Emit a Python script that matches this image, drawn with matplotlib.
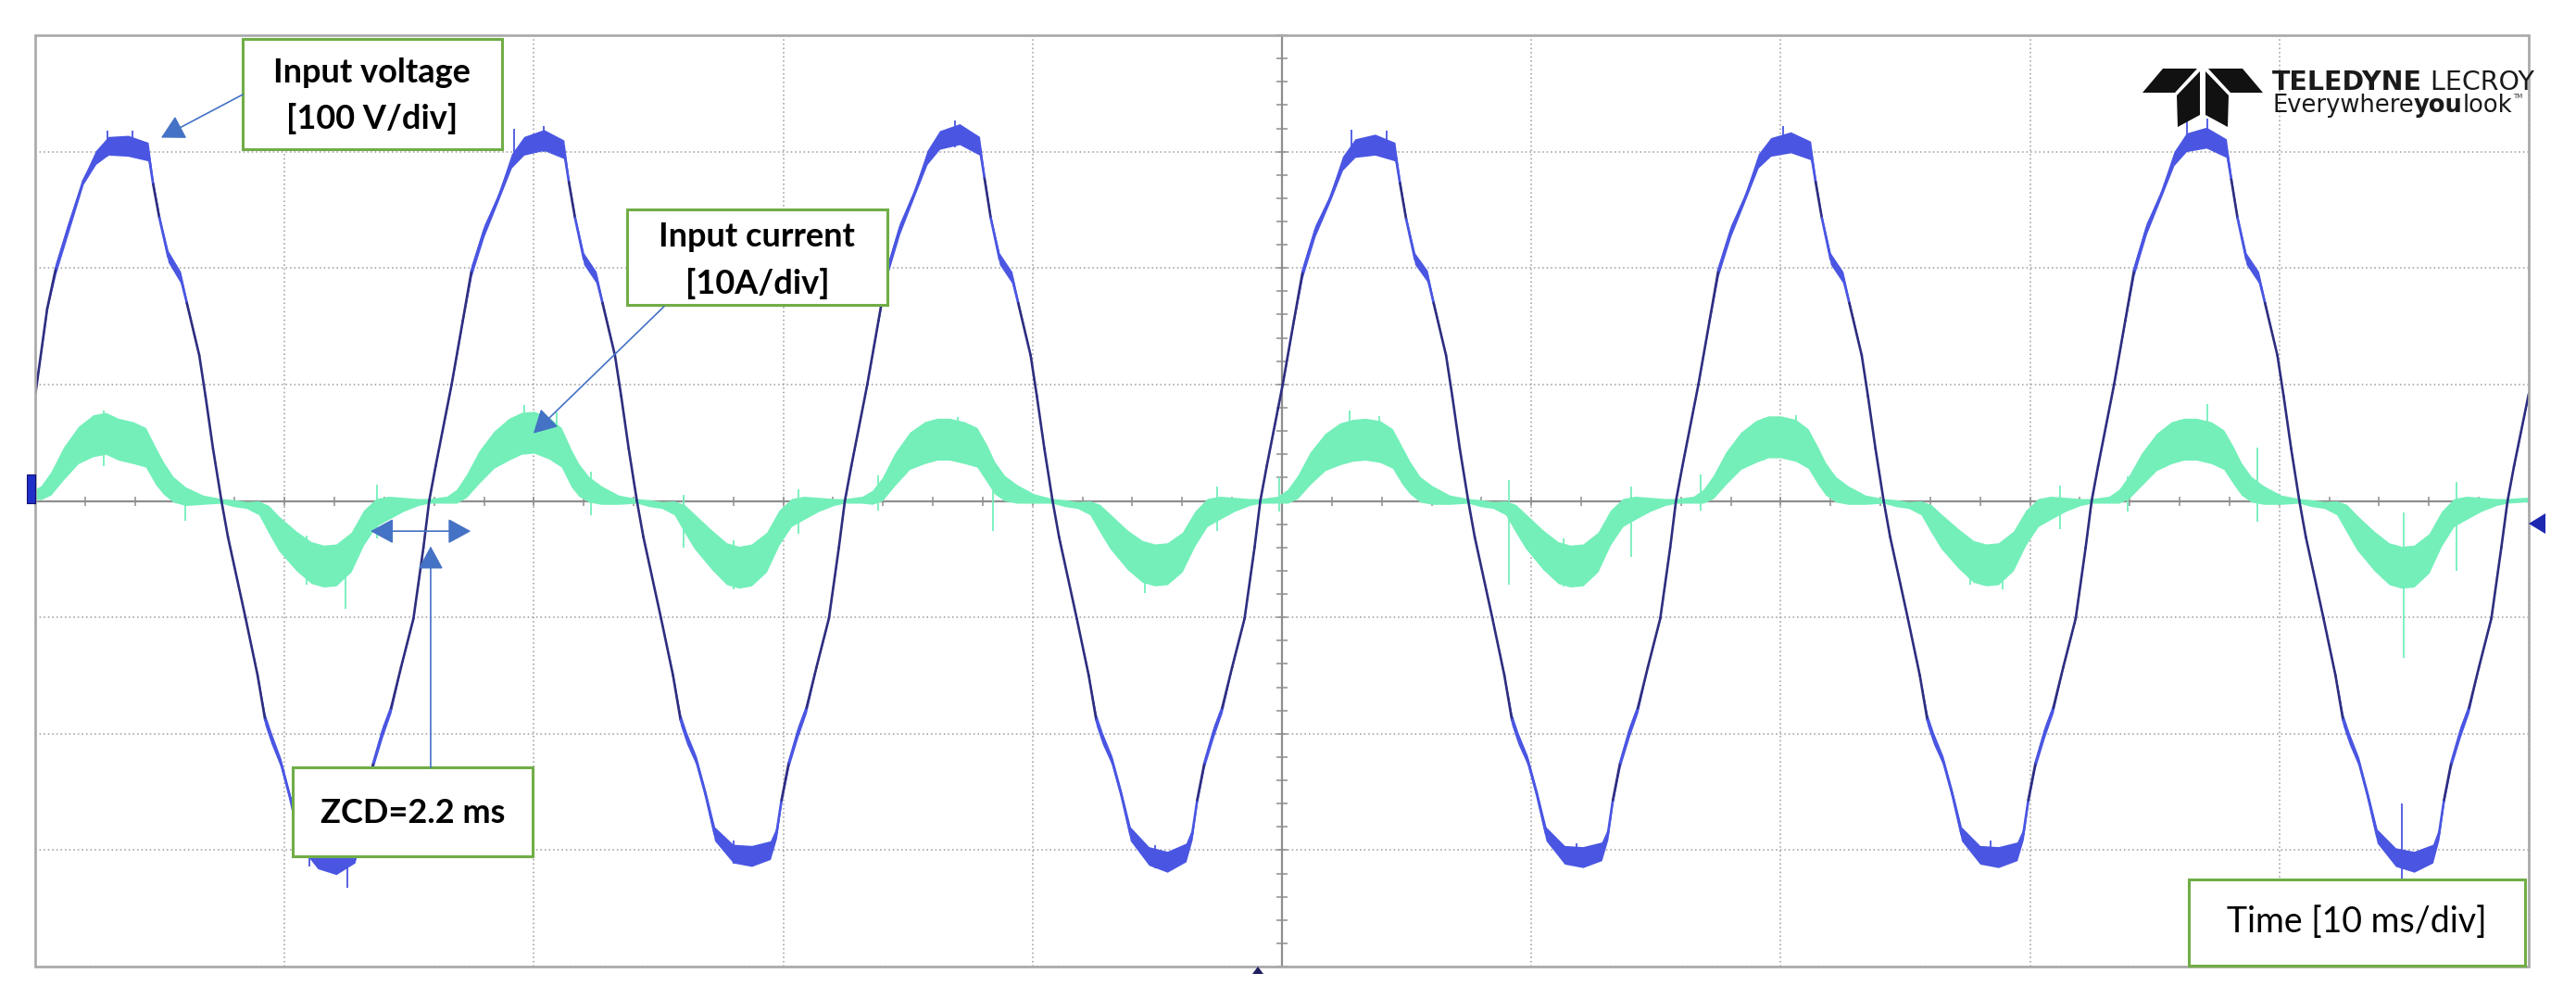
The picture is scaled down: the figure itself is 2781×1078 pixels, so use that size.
import numpy as np
import matplotlib
matplotlib.use("Agg")
import matplotlib.pyplot as plt
from matplotlib.patches import Rectangle, Polygon
from matplotlib.collections import LineCollection
from matplotlib.ticker import MultipleLocator

W, H, DPI = 2781, 1078, 100

# ---------------- data ----------------
# time in ms (10 ms/div), voltage in V (100 V/div), current in A (10 A/div)
V_PER_DIV = 100.0
I_PER_DIV = 10.0

# input voltage, one list per half cycle
v_t_p0 = [-0.87, -0.61, 0.03, 0.48, 0.83, 1.33, 1.93, 2.43, 2.93, 3.73, 4.53, 4.73, 4.98, 5.33, 5.83, 6.08, 6.58, 6.83, 7.13]
v_p0 = [0, 30, 95, 165, 200, 235, 275, 295, 305, 305, 300, 272, 243, 210, 192, 170, 125, 90, 45]
v_t_n0 = [7.47, 7.73, 8.44, 8.92, 9.22, 9.47, 9.85, 10.22, 10.59, 11.33, 12.07, 12.82, 13.07, 13.27, 13.56, 13.93, 14.27, 14.67, 15.17, 15.57]
v_n0 = [0, -31, -101, -150, -188, -204, -225, -255, -290, -308, -312, -303, -286, -257, -225, -198, -178, -143, -101, -40]
v_t_p1 = [15.80, 16.06, 16.70, 17.15, 17.50, 18.00, 18.60, 19.10, 19.60, 20.40, 21.20, 21.40, 21.65, 22.00, 22.50, 22.75, 23.25, 23.50, 23.80]
v_p1 = [0, 30, 100, 155, 198, 232, 262, 292, 305, 310, 302, 274, 243, 208, 192, 170, 125, 90, 45]
v_t_n1 = [24.13, 24.39, 25.10, 25.58, 25.88, 26.13, 26.51, 26.88, 27.25, 27.99, 28.73, 29.48, 29.73, 29.93, 30.22, 30.59, 30.93, 31.33, 31.83, 32.23]
v_n1 = [0, -31, -101, -150, -188, -204, -223, -252, -286, -303, -305, -300, -285, -257, -225, -198, -178, -143, -101, -40]
v_t_p2 = [32.47, 32.73, 33.37, 33.82, 34.17, 34.67, 35.27, 35.77, 36.27, 37.07, 37.87, 38.07, 38.32, 38.67, 39.17, 39.42, 39.92, 40.17, 40.47]
v_p2 = [0, 30, 100, 155, 198, 234, 265, 295, 310, 315, 305, 277, 243, 208, 192, 170, 125, 90, 45]
v_t_n2 = [40.80, 41.06, 41.77, 42.25, 42.55, 42.80, 43.18, 43.55, 43.92, 44.66, 45.40, 46.15, 46.40, 46.60, 46.89, 47.26, 47.60, 48.00, 48.50, 48.90]
v_n2 = [0, -31, -101, -150, -188, -204, -223, -252, -286, -305, -310, -302, -286, -257, -225, -198, -178, -143, -101, -40]
v_t_p3 = [49.13, 49.39, 50.03, 50.48, 50.83, 51.33, 51.93, 52.43, 52.93, 53.73, 54.53, 54.73, 54.98, 55.33, 55.83, 56.08, 56.58, 56.83, 57.13]
v_p3 = [0, 30, 100, 155, 197, 232, 260, 290, 303, 306, 300, 273, 242, 208, 193, 170, 125, 90, 45]
v_t_n3 = [57.47, 57.73, 58.44, 58.92, 59.22, 59.47, 59.85, 60.22, 60.59, 61.33, 62.07, 62.82, 63.07, 63.27, 63.56, 63.93, 64.27, 64.67, 65.17, 65.57]
v_n3 = [0, -31, -101, -150, -188, -204, -223, -252, -286, -304, -306, -301, -286, -257, -225, -198, -178, -143, -101, -40]
v_t_p4 = [65.80, 66.06, 66.70, 67.15, 67.50, 68.00, 68.60, 69.10, 69.60, 70.40, 71.20, 71.40, 71.65, 72.00, 72.50, 72.75, 73.25, 73.50, 73.80]
v_p4 = [0, 30, 100, 155, 198, 232, 262, 292, 304, 308, 301, 274, 243, 208, 192, 170, 125, 90, 45]
v_t_n4 = [74.13, 74.39, 75.10, 75.58, 75.88, 76.13, 76.51, 76.88, 77.25, 77.99, 78.73, 79.48, 79.73, 79.93, 80.22, 80.59, 80.93, 81.33, 81.83, 82.23]
v_n4 = [0, -31, -101, -150, -188, -204, -223, -252, -286, -304, -306, -301, -286, -257, -225, -198, -178, -143, -101, -40]
v_t_p5 = [82.47, 82.73, 83.37, 83.82, 84.17, 84.67, 85.27, 85.77, 86.27, 87.07, 87.87, 88.07, 88.32, 88.67, 89.17, 89.42, 89.92, 90.17, 90.47]
v_p5 = [0, 30, 100, 155, 198, 234, 264, 294, 308, 312, 303, 276, 243, 208, 192, 170, 125, 90, 45]
v_t_n5 = [90.80, 91.06, 91.77, 92.25, 92.55, 92.80, 93.18, 93.55, 93.92, 94.66, 95.40, 96.15, 96.40, 96.60, 96.89, 97.26, 97.60, 98.00, 98.50, 98.90]
v_n5 = [0, -31, -101, -150, -188, -204, -224, -254, -288, -306, -310, -303, -286, -257, -225, -198, -178, -143, -101, -40]
v_t_p6 = [99.15, 99.41, 100.0]
v_p6 = [0, 30, 92]
# visible noise half-thickness of the voltage trace (V)
v_band_pos = [1, 1, 1, 2, 5, 5, 3, 6, 8, 9, 8, 4, 3, 5, 5, 3, 1, 1, 1]
v_band_neg = [1, 1, 1, 2, 5, 5, 4, 4, 6, 8, 9, 8, 5, 3, 4, 5, 4, 1, 1, 1]
v_band_end = [1, 1, 1]
# isolated voltage spikes: time, low, high (V)
v_spk_t = [12.5, 94.9, 52.8, 87.1, 3.9, 20.4, 2.9, 19.2, 36.9, 54.2, 70.1, 86.3, 28.0, 44.9, 61.8, 78.4, 11.0]
v_spk_lo = [-332, -326, 300, 305, 298, 300, 296, 296, 304, 297, 298, 302, -312, -316, -312, -312, -314]
v_spk_hi = [-300, -260, 319, 328, 318, 322, 318, 320, 327, 318, 322, 326, -292, -296, -294, -292, -294]

# input current, one list per half cycle
i_t_p0 = [-0.87, -0.17, 0.23, 0.63, 1.13, 1.73, 2.33, 2.83, 3.33, 3.93, 4.43, 4.83, 5.13, 5.53, 6.03, 6.73]
i_p0 = [0.4, 0.5, 0.7, 1.5, 3.2, 4.8, 5.6, 5.8, 5.3, 5.0, 4.6, 3.0, 2.0, 1.0, 0.4, 0.1]
i_t_n0 = [7.47, 7.97, 8.47, 8.97, 9.37, 9.77, 10.47, 11.07, 11.57, 12.07, 12.67, 13.17, 13.67, 14.17, 14.77, 15.37]
i_n0 = [0, -0.2, -0.35, -0.6, -1.6, -2.8, -4.3, -5.3, -5.6, -5.5, -4.4, -2.3, -1.0, -0.6, -0.3, -0.1]
i_t_p1 = [15.80, 16.50, 16.90, 17.30, 17.80, 18.40, 19.00, 19.50, 20.00, 20.60, 21.10, 21.50, 21.80, 22.20, 22.70, 23.40]
i_p1 = [0, 0.1, 0.4, 1.3, 2.9, 4.4, 5.3, 5.8, 5.9, 5.4, 4.6, 2.8, 1.8, 1.0, 0.5, 0.1]
i_t_n1 = [24.13, 24.63, 25.13, 25.63, 26.03, 26.43, 27.13, 27.73, 28.23, 28.73, 29.33, 29.83, 30.33, 30.83, 31.43, 32.03]
i_n1 = [0, -0.2, -0.35, -0.6, -1.5, -2.6, -4.2, -5.4, -5.7, -5.5, -4.4, -2.3, -1.0, -0.6, -0.3, -0.1]
i_t_p2 = [32.47, 33.17, 33.57, 33.97, 34.47, 35.07, 35.67, 36.17, 36.67, 37.27, 37.77, 38.17, 38.47, 38.87, 39.37, 40.07]
i_p2 = [0, 0.1, 0.3, 1.0, 2.7, 4.3, 5.0, 5.3, 5.3, 5.0, 4.6, 3.2, 2.0, 1.1, 0.6, 0.2]
i_t_n2 = [40.80, 41.30, 41.80, 42.30, 42.70, 43.10, 43.80, 44.40, 44.90, 45.40, 46.00, 46.50, 47.00, 47.50, 48.10, 48.70]
i_n2 = [0, -0.2, -0.35, -0.6, -1.5, -2.6, -4.2, -5.2, -5.5, -5.4, -4.4, -2.4, -1.0, -0.6, -0.3, -0.1]
i_t_p3 = [49.13, 49.83, 50.23, 50.63, 51.13, 51.73, 52.33, 52.83, 53.33, 53.93, 54.43, 54.83, 55.13, 55.53, 56.03, 56.73]
i_p3 = [0, 0.1, 0.4, 1.2, 2.8, 4.2, 4.9, 5.2, 5.3, 5.1, 4.5, 3.0, 2.0, 1.0, 0.5, 0.1]
i_t_n3 = [57.47, 57.97, 58.47, 58.97, 59.37, 59.77, 60.47, 61.07, 61.57, 62.07, 62.67, 63.17, 63.67, 64.17, 64.77, 65.37]
i_n3 = [0, -0.2, -0.35, -0.6, -1.5, -2.6, -4.2, -5.3, -5.6, -5.5, -4.4, -2.3, -1.0, -0.6, -0.3, -0.1]
i_t_p4 = [65.80, 66.50, 66.90, 67.30, 67.80, 68.40, 69.00, 69.50, 70.00, 70.60, 71.10, 71.50, 71.80, 72.20, 72.70, 73.40]
i_p4 = [0, 0.1, 0.4, 1.2, 2.8, 4.3, 5.1, 5.5, 5.5, 5.2, 4.5, 3.0, 1.9, 1.0, 0.5, 0.1]
i_t_n4 = [74.13, 74.63, 75.13, 75.63, 76.03, 76.43, 77.13, 77.73, 78.23, 78.73, 79.33, 79.83, 80.33, 80.83, 81.43, 82.03]
i_n4 = [0, -0.2, -0.35, -0.6, -1.5, -2.6, -4.1, -5.2, -5.5, -5.4, -4.3, -2.3, -1.0, -0.6, -0.3, -0.1]
i_t_p5 = [82.47, 83.17, 83.57, 83.97, 84.47, 85.07, 85.67, 86.17, 86.67, 87.27, 87.77, 88.17, 88.47, 88.87, 89.37, 90.07]
i_p5 = [0, 0.1, 0.4, 1.2, 2.7, 4.2, 5.0, 5.3, 5.3, 5.0, 4.4, 3.0, 1.9, 1.0, 0.5, 0.1]
i_t_n5 = [90.80, 91.30, 91.80, 92.30, 92.70, 93.10, 93.80, 94.40, 94.90, 95.40, 96.00, 96.50, 97.00, 97.50, 98.10, 98.70]
i_n5 = [0, -0.2, -0.35, -0.6, -1.5, -2.7, -4.3, -5.4, -5.7, -5.6, -4.5, -2.4, -1.0, -0.6, -0.3, -0.1]
i_t_end = [99.13, 99.80, 100.0]
i_end = [0, 0.1, 0.1]
# visible noise half-thickness of the current trace (A)
i_band_pos = [0.2, 0.3, 0.6, 1.0, 1.4, 1.6, 1.8, 1.8, 1.8, 1.8, 1.7, 1.6, 1.4, 1.1, 0.8, 0.4]
i_band_neg = [0.2, 0.3, 0.3, 0.6, 1.2, 1.5, 1.7, 1.8, 1.8, 1.8, 1.7, 1.5, 1.2, 1.0, 0.6, 0.3]
i_band_end = [0.2, 0.2, 0.2]
# isolated current spikes: time, low, high (A)
i_spk_t = [2.75, 12.45, 37.0, 38.4, 52.7, 59.1, 64.0, 87.1, 89.1, 95.0, 97.1, 22.3, 26.0, 13.7,
           6.0, 44.5, 70.6, 78.9, 19.6, 20.9, 36.2, 53.9, 69.3, 86.0, 10.9, 28.0, 61.3, 77.6,
           33.8, 49.9, 66.8, 83.9, 47.4, 30.6, 81.2]
i_spk_lo = [3.0, -9.3, 4.0, -2.6, 4.0, -7.2, -4.8, 4.0, -1.8, -13.5, -6.0, -1.2, -4.0, -3.2,
            -1.7, -7.9, 3.5, -7.6, 4.0, 3.5, 3.5, 3.5, 3.5, 3.5, -7.2, -7.6, -7.4, -7.2,
            -0.8, -0.9, -0.8, -0.9, -2.6, -2.8, -2.4]
i_spk_hi = [7.8, -4.0, 7.2, 2.0, 7.8, 1.8, 1.2, 8.3, 4.6, -1.0, 1.6, 2.5, 0.5, 1.4,
            1.0, -4.0, 7.4, -4.0, 8.2, 7.6, 7.0, 7.3, 7.1, 7.0, -3.0, -3.4, -3.2, -3.2,
            2.2, 2.0, 2.3, 2.1, 1.2, 1.0, 1.3]

# ---------------- assemble ----------------
v_t = np.concatenate([v_t_p0, v_t_n0, v_t_p1, v_t_n1, v_t_p2, v_t_n2, v_t_p3, v_t_n3,
                      v_t_p4, v_t_n4, v_t_p5, v_t_n5, v_t_p6])
v_v = np.concatenate([v_p0, v_n0, v_p1, v_n1, v_p2, v_n2, v_p3, v_n3, v_p4, v_n4, v_p5, v_n5, v_p6])
v_b = np.concatenate([v_band_pos, v_band_neg] * 6 + [v_band_end])
i_t = np.concatenate([i_t_p0, i_t_n0, i_t_p1, i_t_n1, i_t_p2, i_t_n2, i_t_p3, i_t_n3,
                      i_t_p4, i_t_n4, i_t_p5, i_t_n5, i_t_end])
i_v = np.concatenate([i_p0, i_n0, i_p1, i_n1, i_p2, i_n2, i_p3, i_n3, i_p4, i_n4, i_p5, i_n5, i_end])
i_b = np.concatenate([i_band_pos, i_band_neg] * 6 + [i_band_end])

VOLT_DARK = "#2e2e80"
VOLT_BRIGHT = "#4a56e2"
CURR = "#74efba"
GRAYL = "#9a9a9a"

fig = plt.figure(figsize=(W / DPI, H / DPI), dpi=DPI)
fig.patch.set_facecolor("white")

def fx(px):
    return px / W

def fy(py):
    return 1 - py / H

ax = fig.add_axes([fx(38), fy(1043), (2730 - 38) / W, (1043 - 38) / H])
ax.set_xlim(0, 100)
ax.set_ylim(-4, 4)
ax.set_facecolor("white")

# scope graticule: centre axes with fine ticks, dotted grid, grey frame
for s in ("top", "right"):
    ax.spines[s].set_visible(False)
ax.spines["left"].set_position(("data", 50))
ax.spines["bottom"].set_position(("data", 0))
for s in ("left", "bottom"):
    ax.spines[s].set_color("#8e8e8e")
    ax.spines[s].set_linewidth(1.6)
    ax.spines[s].set_zorder(2.5)
ax.xaxis.set_major_locator(MultipleLocator(10))
ax.xaxis.set_minor_locator(MultipleLocator(2))
ax.yaxis.set_major_locator(MultipleLocator(1))
ax.yaxis.set_minor_locator(MultipleLocator(0.2))
ax.tick_params(axis="x", which="both", direction="inout", length=6.5, width=1.1,
               color="#8e8e8e", labelbottom=False)
ax.tick_params(axis="y", which="both", direction="inout", length=8.5, width=1.1,
               color="#8e8e8e", labelleft=False)
ax.grid(True, which="major", linestyle=(0, (1, 2)), color=GRAYL, linewidth=1.1)
ax.set_axisbelow(True)
ax.add_patch(Rectangle((0, 0), 1, 1, transform=ax.transAxes, fill=False,
                       ec="#a8a8a8", lw=1.9, zorder=6, clip_on=False))

# current trace (10 A/div)
ci = i_v / I_PER_DIV
cb = i_b / I_PER_DIV
ax.fill_between(i_t, ci - cb, ci + cb, color=CURR, lw=0, zorder=3)
ax.plot(i_t, ci, color=CURR, lw=1.4, zorder=3)
ax.vlines(i_spk_t, np.array(i_spk_lo) / I_PER_DIV, np.array(i_spk_hi) / I_PER_DIV,
          color=CURR, lw=1.3, zorder=3)

# voltage trace (100 V/div): noisy parts bright blue, clean slopes dark navy
cv = v_v / V_PER_DIV
vb = v_b / V_PER_DIV
ax.fill_between(v_t, cv - vb, cv + vb, color=VOLT_BRIGHT, lw=0, zorder=4)
pts = np.column_stack([v_t, cv])
segs = np.stack([pts[:-1], pts[1:]], axis=1)
seg_noisy = (v_b[:-1] + v_b[1:]) / 2 > 3.5
seg_cols = [VOLT_BRIGHT if n else VOLT_DARK for n in seg_noisy]
ax.add_collection(LineCollection(segs, colors=seg_cols, linewidths=1.9, zorder=4,
                                 capstyle="round", joinstyle="round"))
ax.vlines(v_spk_t, np.array(v_spk_lo) / V_PER_DIV, np.array(v_spk_hi) / V_PER_DIV,
          color=VOLT_BRIGHT, lw=1.3, zorder=4)

# ---------------- annotations ----------------
GREEN = "#70ad47"
ABLUE = "#4472c4"
FONT = ["Lato", "DejaVu Sans"]

def box(x0, y0, x1, y1):
    ax.add_patch(Rectangle((x0, y0), x1 - x0, y1 - y0, fc="white", ec=GREEN, lw=2.2,
                           zorder=10, clip_on=False))

def arrow(xy_from, xy_to, style="-|>"):
    ax.annotate("", xy=xy_to, xytext=xy_from, zorder=11, annotation_clip=False,
                arrowprops=dict(arrowstyle=style + ",head_length=0.55,head_width=0.3",
                                color=ABLUE, lw=1.2, mutation_scale=28,
                                shrinkA=0, shrinkB=0))

# Input voltage
box(8.32, 3.02, 18.72, 3.97)
ax.text(13.5, 3.68, "Input voltage", ha="center", va="center", fontsize=26,
        fontweight="bold", family=FONT, zorder=12)
ax.text(13.5, 3.28, "[100 V/div]", ha="center", va="center", fontsize=26,
        fontweight="bold", family=FONT, zorder=12)
arrow((8.32, 3.49), (5.05, 3.12))

# Input current
box(23.74, 1.68, 34.18, 2.50)
ax.text(28.95, 2.27, "Input current", ha="center", va="center", fontsize=26,
        fontweight="bold", family=FONT, zorder=12)
ax.text(28.95, 1.87, "[10A/div]", ha="center", va="center", fontsize=26,
        fontweight="bold", family=FONT, zorder=12)
arrow((25.22, 1.67), (19.98, 0.58))

# ZCD
box(10.33, -3.05, 19.95, -2.29)
ax.text(15.14, -2.68, "ZCD=2.2 ms", ha="center", va="center", fontsize=26,
        fontweight="bold", family=FONT, zorder=12)
arrow((15.86, -2.29), (15.86, -0.39))
arrow((15.45, -0.26), (13.45, -0.26))
arrow((15.45, -0.26), (17.47, -0.26))

# Time
box(86.37, -3.99, 99.85, -3.25)
ax.text(93.1, -3.62, "Time [10 ms/div]", ha="center", va="center", fontsize=27,
        family=FONT, zorder=12)

# ---------------- scope markers ----------------
fig.patches.append(Rectangle((fx(29), fy(543)), fx(9), 31 / H, transform=fig.transFigure,
                             fc="#1f2fc8", ec="#101070", lw=0.8))
fig.patches.append(Polygon([(fx(2730), fy(565)), (fx(2748), fy(554)), (fx(2748), fy(576))],
                           closed=True, transform=fig.transFigure, fc="#1c28b0", ec="none"))
fig.patches.append(Polygon([(fx(1358), fy(1043)), (fx(1352), fy(1051)), (fx(1364), fy(1051))],
                           closed=True, transform=fig.transFigure, fc="#202060", ec="none"))

# ---------------- Teledyne LeCroy logo ----------------
logo_polys = [
    [(2313, 100), (2335, 74), (2372, 74), (2348, 100)],
    [(2443, 100), (2421, 74), (2384, 74), (2408, 100)],
    [(2350, 103), (2375, 77), (2375, 124), (2351, 137)],
    [(2406, 103), (2381, 77), (2381, 124), (2405, 137)],
]
for pts_l in logo_polys:
    fig.patches.append(Polygon([(fx(x), fy(y)) for x, y in pts_l], closed=True,
                               transform=fig.transFigure, fc="#111111", ec="none"))

renderer = fig.canvas.get_renderer()

def pieces(items, x_px, base_px):
    x = x_px
    for txt, weight, size, fam in items:
        t = fig.text(fx(x), fy(base_px), txt, fontsize=size, fontweight=weight,
                     family=fam, va="baseline", ha="left", color="#1a1a1a")
        x += t.get_window_extent(renderer=renderer).width
    return x

NARROW = ["Liberation Sans Narrow", "DejaVu Sans"]
pieces([("TELEDYNE", "bold", 20.5, NARROW), (" LECROY", "normal", 20.5, NARROW)], 2453, 97)
xe = pieces([("Everywhere", "normal", 18.5, NARROW), ("you", "bold", 18.5, NARROW),
             ("look", "normal", 18.5, NARROW)], 2453, 121)
fig.text(fx(xe + 1), fy(106), "TM", fontsize=5, family=NARROW, color="#333333", va="baseline")

fig.savefig("out.png", dpi=DPI, facecolor="white")
